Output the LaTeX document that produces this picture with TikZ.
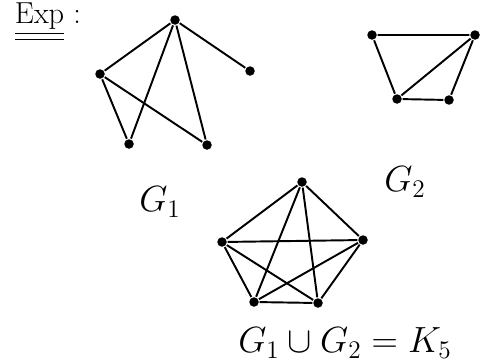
\documentclass[tikz,border=0pt]{standalone}
\usepackage{amssymb}

\begin{document}
\begin{tikzpicture}[x=0.02cm,y=-0.02cm,line width=1.1pt,
    vtx/.style={circle,fill=black,inner sep=0pt,minimum size=0.19cm},
    lbl/.style={font=\huge}]
  \useasboundingbox (0,0) rectangle (502,362);

  % heading
  \node[lbl,font=\LARGE] (exp) at (48,22) {$\underline{\underline{\mathrm{Exp}}}$\ :};

  % G1
  \node[vtx] (a1) at (175,20) {};
  \node[vtx] (a2) at (250,71) {};
  \node[vtx] (a3) at (100,74) {};
  \node[vtx] (a4) at (129,144) {};
  \node[vtx] (a5) at (207,145) {};
  \draw (a1) -- (a2);
  \draw (a1) -- (a3);
  \draw (a1) -- (a4);
  \draw (a1) -- (a5);
  \draw (a3) -- (a4);
  \draw (a3) -- (a5);
  \node[lbl] (g1) at (160,202) {$G_1$};

  % G2
  \node[vtx] (b1) at (372,35) {};
  \node[vtx] (b2) at (475,35) {};
  \node[vtx] (b3) at (397,99) {};
  \node[vtx] (b4) at (449,100) {};
  \draw (b1) -- (b2) -- (b4) -- (b3) -- (b1);
  \draw (b3) -- (b2);
  \node[lbl] (g2) at (405,182) {$G_2$};

  % K5
  \node[vtx] (k1) at (302,182) {};
  \node[vtx] (k2) at (363,240) {};
  \node[vtx] (k3) at (318,303) {};
  \node[vtx] (k4) at (254,302) {};
  \node[vtx] (k5) at (222,242) {};
  \foreach \i/\j in {1/2,1/3,1/4,1/5,2/3,2/4,2/5,3/4,3/5,4/5}
    \draw (k\i) -- (k\j);
  \node[lbl] (g12) at (345,343) {$G_1 \cup G_2 = K_5$};
\end{tikzpicture}
\end{document}
